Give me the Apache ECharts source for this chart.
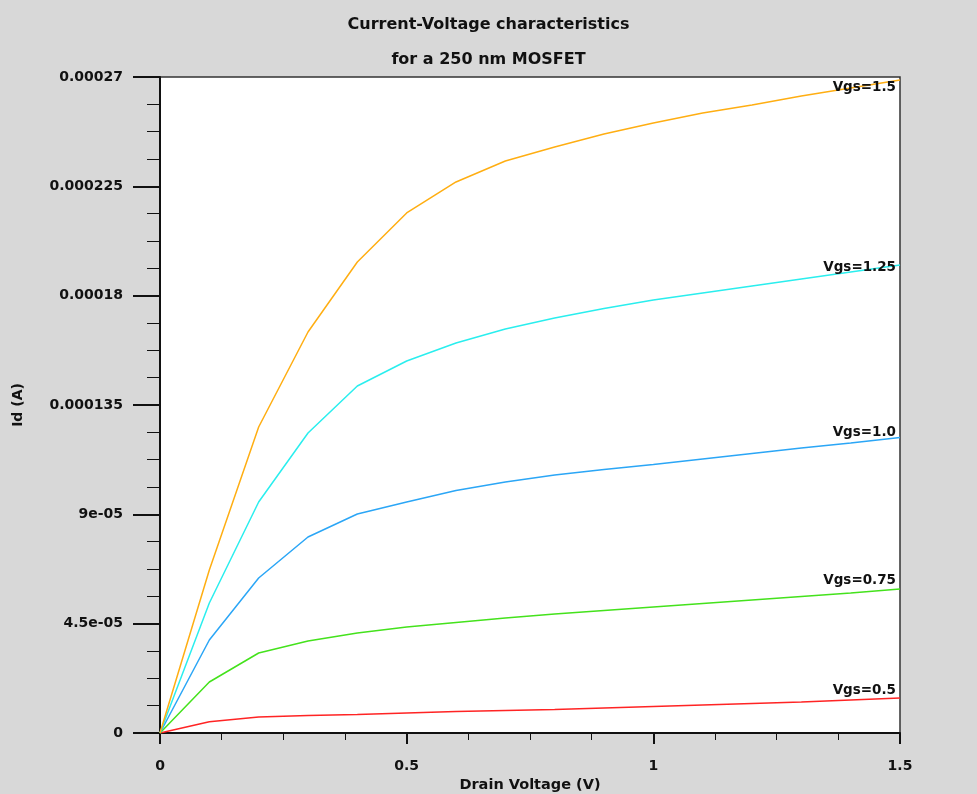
<!DOCTYPE html>
<html>
<head>
<meta charset="utf-8">
<script src="https://cdn.jsdelivr.net/npm/echarts@6/dist/echarts.min.js"></script>
<style>
  html, body { margin: 0; padding: 0; background: #d8d8d8; }
  #chart { width: 977px; height: 794px; }
</style>
</head>
<body>
<div id="chart"></div>
<script>
// Drain voltage sweep (V)
const drainVoltage = [0, 0.1, 0.2, 0.3, 0.4, 0.5, 0.6, 0.7, 0.8, 0.9, 1.0, 1.1, 1.2, 1.3, 1.4, 1.5];

// Drain current (A) for each gate voltage
const idVgs050 = [0, 0.465e-5, 0.659e-5, 0.720e-5, 0.761e-5, 0.823e-5, 0.885e-5, 0.926e-5, 0.967e-5, 1.029e-5, 1.091e-5, 1.152e-5, 1.214e-5, 1.276e-5, 1.358e-5, 1.441e-5];
const idVgs075 = [0, 2.099e-5, 3.293e-5, 3.787e-5, 4.116e-5, 4.363e-5, 4.548e-5, 4.733e-5, 4.898e-5, 5.042e-5, 5.186e-5, 5.330e-5, 5.474e-5, 5.618e-5, 5.762e-5, 5.927e-5];
const idVgs100 = [0, 3.828e-5, 6.380e-5, 8.067e-5, 9.014e-5, 9.508e-5, 9.981e-5, 10.331e-5, 10.619e-5, 10.845e-5, 11.051e-5, 11.278e-5, 11.504e-5, 11.730e-5, 11.936e-5, 12.163e-5];
const idVgs125 = [0, 5.351e-5, 9.508e-5, 12.348e-5, 14.282e-5, 15.311e-5, 16.052e-5, 16.628e-5, 17.081e-5, 17.472e-5, 17.822e-5, 18.110e-5, 18.398e-5, 18.686e-5, 18.974e-5, 19.262e-5];
const idVgs150 = [0, 6.709e-5, 12.595e-5, 16.505e-5, 19.386e-5, 21.403e-5, 22.679e-5, 23.543e-5, 24.119e-5, 24.654e-5, 25.107e-5, 25.519e-5, 25.848e-5, 26.218e-5, 26.548e-5, 26.877e-5];

// Curve names and axis tick labels
const curveNames = ['Vgs=0.5', 'Vgs=0.75', 'Vgs=1.0', 'Vgs=1.25', 'Vgs=1.5'];
const yTickLabels = ['0', '4.5e-05', '9e-05', '0.000135', '0.00018', '0.000225', '0.00027'];
const xTickLabels = ['0', '0.5', '1', '1.5'];

const curves = [idVgs050, idVgs075, idVgs100, idVgs125, idVgs150];
const curveColors = ['#ff2424', '#44e21c', '#2ba6f6', '#2aeeee', '#ffae12'];
const labelShift = [-7, -8, -5, 2.5, 8];

const FONT = 'DejaVu Sans';
const chart = echarts.init(document.getElementById('chart'), null, { renderer: 'canvas' });

const series = curves.map((vals, i) => ({
  type: 'line',
  name: curveNames[i],
  data: drainVoltage.map((v, k) => [v, vals[k]]),
  showSymbol: false,
  symbol: 'none',
  animation: false,
  z: 3 + i,
  lineStyle: { color: curveColors[i], width: 1.5 },
  itemStyle: { color: curveColors[i] },
  endLabel: {
    show: true,
    formatter: curveNames[i],
    align: 'right',
    verticalAlign: 'middle',
    distance: 0,
    offset: [-4, labelShift[i]],
    color: '#111',
    fontFamily: FONT,
    fontWeight: 'bold',
    fontSize: 13.5
  }
}));

chart.setOption({
  backgroundColor: '#d8d8d8',
  animation: false,
  title: {
    text: 'Current-Voltage characteristics\nfor a 250 nm MOSFET',
    left: 'center',
    top: 2,
    textStyle: {
      fontFamily: FONT,
      fontWeight: 'bold',
      fontSize: 16,
      lineHeight: 35,
      color: '#111'
    }
  },
  grid: {
    left: 160,
    right: 77,
    top: 77,
    bottom: 61,
    outerBoundsMode: 'none',
    show: true,
    backgroundColor: '#ffffff',
    borderColor: '#333',
    borderWidth: 1.5
  },
  xAxis: {
    type: 'value',
    min: 0,
    max: 1.5,
    interval: 0.5,
    name: 'Drain Voltage (V)',
    nameLocation: 'middle',
    nameGap: 41,
    nameTextStyle: { fontFamily: FONT, fontWeight: 'bold', fontSize: 14.5, color: '#111' },
    axisLine: { show: true, onZero: false, lineStyle: { color: '#111', width: 2 } },
    axisTick: { show: true, inside: false, length: 11, lineStyle: { color: '#111', width: 2 } },
    minorTick: { show: true, splitNumber: 4, length: 7, lineStyle: { color: '#111', width: 1 } },
    splitLine: { show: false },
    axisLabel: {
      margin: 26,
      fontFamily: FONT,
      fontWeight: 'bold',
      fontSize: 14,
      color: '#111',
      formatter: v => xTickLabels[Math.round(v / 0.5)]
    }
  },
  yAxis: {
    type: 'value',
    min: 0,
    max: 0.00027,
    interval: 0.000045,
    name: 'Id (A)',
    nameLocation: 'middle',
    nameGap: 135,
    nameRotate: 90,
    nameTextStyle: { fontFamily: FONT, fontWeight: 'bold', fontSize: 14, color: '#111' },
    axisLine: { show: true, onZero: false, lineStyle: { color: '#111', width: 2 } },
    axisTick: { show: true, inside: false, length: 27, lineStyle: { color: '#111', width: 2 } },
    minorTick: { show: true, splitNumber: 4, length: 13, lineStyle: { color: '#111', width: 1 } },
    splitLine: { show: false },
    axisLabel: {
      margin: 37,
      fontFamily: FONT,
      fontWeight: 'bold',
      fontSize: 14,
      color: '#111',
      formatter: v => yTickLabels[Math.round(v / 0.000045)]
    }
  },
  series: series
});
</script>
</body>
</html>
